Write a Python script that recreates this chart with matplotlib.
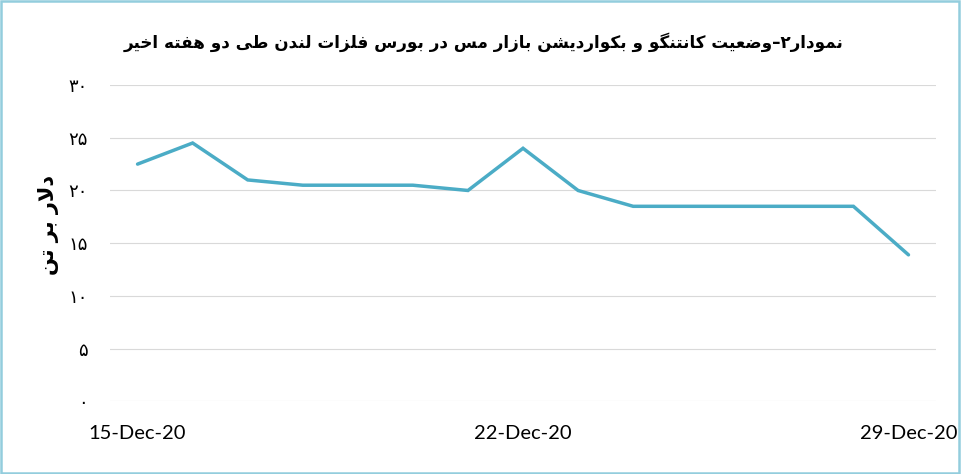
import matplotlib
matplotlib.use("Agg")
import matplotlib.pyplot as plt
from matplotlib.patches import Rectangle

# داده‌ها
dates = ['15-Dec-20', '16-Dec-20', '17-Dec-20', '18-Dec-20', '19-Dec-20',
         '20-Dec-20', '21-Dec-20', '22-Dec-20', '23-Dec-20', '24-Dec-20',
         '25-Dec-20', '26-Dec-20', '27-Dec-20', '28-Dec-20', '29-Dec-20']
values = [22.5, 24.5, 21.0, 20.5, 20.5, 20.5, 20.0, 24.0, 20.0, 18.5,
          18.5, 18.5, 18.5, 18.5, 13.9]
shown_dates = ['15-Dec-20', '22-Dec-20', '29-Dec-20']
y_ticks = [0, 5, 10, 15, 20, 25, 30]

title = 'نمودار۲–وضعیت کانتنگو و بکواردیشن بازار مس در بورس فلزات لندن طی دو هفته اخیر'
ylabel = 'دلار بر تن'

# فرم‌های نمایشی: (مجزا، پایانی، آغازی، میانی)
FORMS = {
    'ا': ('\uFE8D', '\uFE8E', None, None),
    'ب': ('\uFE8F', '\uFE90', '\uFE91', '\uFE92'),
    'ت': ('\uFE95', '\uFE96', '\uFE97', '\uFE98'),
    'خ': ('\uFEA5', '\uFEA6', '\uFEA7', '\uFEA8'),
    'د': ('\uFEA9', '\uFEAA', None, None),
    'ر': ('\uFEAD', '\uFEAE', None, None),
    'ز': ('\uFEAF', '\uFEB0', None, None),
    'س': ('\uFEB1', '\uFEB2', '\uFEB3', '\uFEB4'),
    'ش': ('\uFEB5', '\uFEB6', '\uFEB7', '\uFEB8'),
    'ض': ('\uFEBD', '\uFEBE', '\uFEBF', '\uFEC0'),
    'ط': ('\uFEC1', '\uFEC2', '\uFEC3', '\uFEC4'),
    'ع': ('\uFEC9', '\uFECA', '\uFECB', '\uFECC'),
    'ف': ('\uFED1', '\uFED2', '\uFED3', '\uFED4'),
    'ل': ('\uFEDD', '\uFEDE', '\uFEDF', '\uFEE0'),
    'م': ('\uFEE1', '\uFEE2', '\uFEE3', '\uFEE4'),
    'ن': ('\uFEE5', '\uFEE6', '\uFEE7', '\uFEE8'),
    'ه': ('\uFEE9', '\uFEEA', '\uFEEB', '\uFEEC'),
    'و': ('\uFEED', '\uFEEE', None, None),
    'ی': ('\uFBFC', '\uFBFD', '\uFBFE', '\uFBFF'),
    'ک': ('\uFB8E', '\uFB8F', '\uFB90', '\uFB91'),
    'گ': ('\uFB92', '\uFB93', '\uFB94', '\uFB95'),
}


def shape(text):
    # شکل‌دهی ساده حروف فارسی و برگرداندن به ترتیب دیداری
    out = []
    i = 0
    n = len(text)
    while i < n:
        c = text[i]
        if c not in FORMS:
            out.append(c)
            i += 1
            continue
        prev = text[i - 1] if i > 0 else ''
        joins_prev = prev in FORMS and FORMS[prev][2] is not None
        if c == 'ل' and i + 1 < n and text[i + 1] == 'ا':
            out.append('\uFEFC' if joins_prev else '\uFEFB')
            i += 2
            continue
        nxt = text[i + 1] if i + 1 < n else ''
        joins_next = FORMS[c][2] is not None and nxt in FORMS
        f = FORMS[c]
        if joins_prev and joins_next:
            out.append(f[3])
        elif joins_prev:
            out.append(f[1])
        elif joins_next:
            out.append(f[2])
        else:
            out.append(f[0])
        i += 1
    return ''.join(out)[::-1]


def fa_digits(v):
    return str(v).translate(str.maketrans('0123456789', '۰۱۲۳۴۵۶۷۸۹'))


fig = plt.figure(figsize=(9.61, 4.74), dpi=100)
ax = fig.add_axes([0.1145, 0.153, 0.8595, 0.6677])

x = list(range(len(dates)))
ax.plot(x, values, color='#4BACC6', linewidth=2.5, solid_capstyle='round',
        solid_joinstyle='miter')

ax.set_xlim(-0.5, len(dates) - 0.5)
ax.set_ylim(0, 30)
ax.set_yticks(y_ticks)
ax.set_yticklabels([fa_digits(v) for v in y_ticks], fontsize=13,
                   family='DejaVu Sans')
ax.set_xticks([dates.index(d) for d in shown_dates])
ax.set_xticklabels(shown_dates, fontsize=14.5, family='Lato')
ax.tick_params(axis='y', length=0, pad=16)
ax.tick_params(axis='x', length=0, pad=17)
ax.grid(axis='y', color='#D9D9D9', linewidth=0.8)
ax.set_axisbelow(True)
for s in ax.spines.values():
    s.set_visible(False)

fig.text(0.503, 0.912, shape(title), ha='center', va='center', fontsize=12.1,
         fontweight='bold', family='DejaVu Sans')
fig.text(0.05, 0.525, shape(ylabel), ha='center', va='center', fontsize=15,
         rotation=90, fontweight='bold', family='DejaVu Sans')

# کادر دور نمودار
fig.patches.append(Rectangle((0.001, 0.002), 0.997, 0.996, transform=fig.transFigure,
                             fill=False, edgecolor='#93CDDD', linewidth=1.8))

fig.savefig('out.png', dpi=100)
